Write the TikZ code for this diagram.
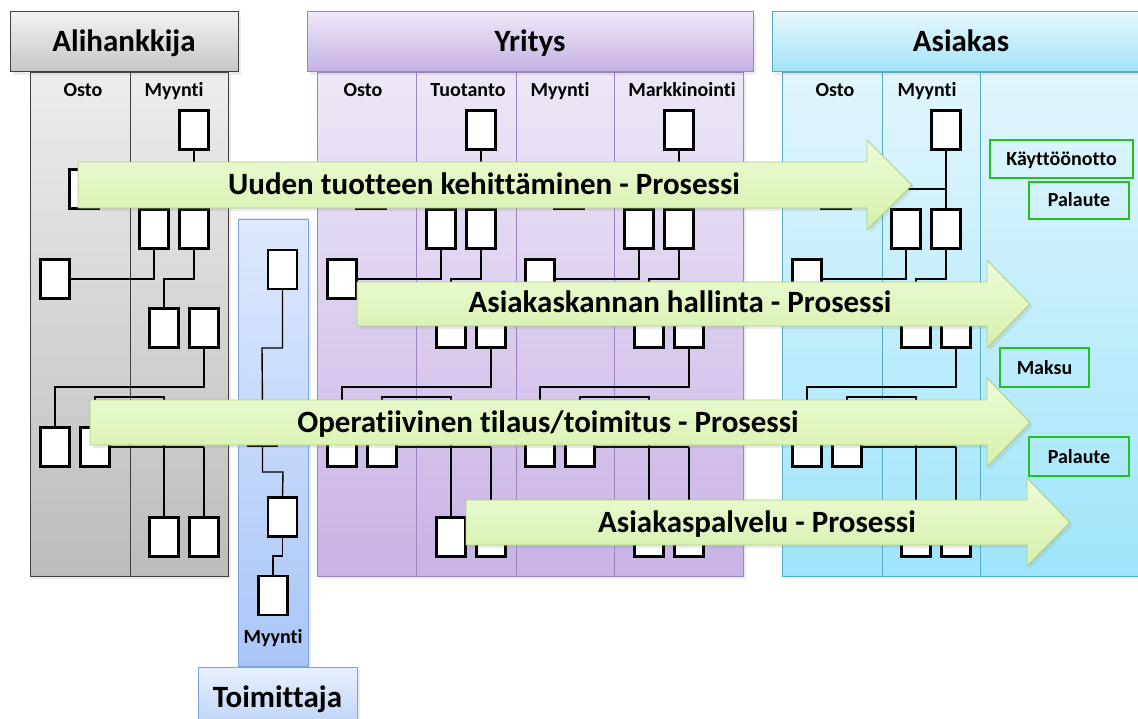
\documentclass[tikz,border=0pt]{standalone}
\usepackage{fontspec}
\setmainfont[Ligatures=NoCommon]{Carlito}
\usetikzlibrary{shadows}

% lane and header colours
\definecolor{aliTop}{HTML}{EDEDED}
\definecolor{aliBot}{HTML}{BCBCBC}
\definecolor{aliHdTop}{HTML}{F2F2F2}
\definecolor{aliHdBot}{HTML}{C6C6C6}
\definecolor{aliEdge}{HTML}{3F3F3F}
\definecolor{yrTop}{HTML}{EEE7F7}
\definecolor{yrBot}{HTML}{C8B3E5}
\definecolor{yrHdTop}{HTML}{EFE8F8}
\definecolor{yrHdBot}{HTML}{C5B0E3}
\definecolor{yrEdge}{HTML}{9C84C4}
\definecolor{asTop}{HTML}{E2F6FD}
\definecolor{asBot}{HTML}{9FE5FA}
\definecolor{asHdTop}{HTML}{E6F8FD}
\definecolor{asHdBot}{HTML}{A2E3F7}
\definecolor{asEdge}{HTML}{54AECB}
\definecolor{toTop}{HTML}{DDE9FC}
\definecolor{toBot}{HTML}{A9C6F7}
\definecolor{toHdTop}{HTML}{E8F0FE}
\definecolor{toHdBot}{HTML}{BCD3F6}
\definecolor{toEdge}{HTML}{7EA3D9}
% process arrows and phase tags
\definecolor{arrTop}{HTML}{EEFCD8}
\definecolor{arrBot}{HTML}{D5F0AA}
\definecolor{arrEdge}{HTML}{AACF80}
\definecolor{tagEdge}{HTML}{1FC21F}

% one organisation chart, #1 = name prefix, #2 = x of its top box
\newcommand\orgchart[2]{%
  \coordinate (#1j1) at (#2,189);
  \coordinate (#1j2) at ({#2-30},279);
  \coordinate (#1j3) at ({#2-139},387);
  \coordinate (#1j4) at ({#2-30},397);
  \coordinate (#1j5) at ({#2-30},447);
  \coordinate (#1j6) at ({#2+10},447);
  \node[orgbox] (#1t)  at (#2,130) {};
  \node[orgbox] (#1l)  at ({#2-110},189) {};
  \node[orgbox] (#1b1) at ({#2-40},229) {};
  \node[orgbox] (#1b2) at (#2,229) {};
  \node[orgbox] (#1l2) at ({#2-139},279) {};
  \node[orgbox] (#1b3) at ({#2-30},328) {};
  \node[orgbox] (#1b4) at ({#2+10},328) {};
  \node[orgbox] (#1l3) at ({#2-139},447) {};
  \node[orgbox] (#1l4) at ({#2-99},447) {};
  \node[orgbox] (#1b5) at ({#2-30},537) {};
  \node[orgbox] (#1b6) at ({#2+10},537) {};
  \draw[link] (#1t) -- (#1b2);
  \draw[link] (#1l.east) -- (#1j1);
  \draw[link] (#1l2.east) -| (#1b1.south);
  \draw[link] (#1b2.south) |- (#1j2) -- (#1b3.north);
  \draw[link] (#1b4.south) |- (#1j3) -- (#1l3.north);
  \draw[link] (#1l4.north) |- (#1j4) -- (#1j5);
  \draw[link] (#1l4.east) -- (#1j6);
  \draw[link] (#1j5) -- (#1b5.north);
  \draw[link] (#1j6) -- (#1b6.north);
}

\begin{document}
\begin{tikzpicture}[x=1pt,y=-1pt,
  lane/.style n args={3}{draw=#3, line width=0.8pt, top color=#1, bottom color=#2,
    drop shadow={opacity=0.15, shadow xshift=3pt, shadow yshift=-3pt}},
  header/.style n args={3}{draw=#3, line width=1pt, top color=#1, bottom color=#2,
    font=\fontsize{31}{31}\selectfont\bfseries, inner sep=0pt, text height=20pt, text depth=0pt,
    drop shadow={opacity=0.15, shadow xshift=3pt, shadow yshift=-3pt}},
  divider/.style={draw=#1, line width=0.8pt},
  col/.style={font=\fontsize{20}{20}\selectfont\bfseries, inner sep=0pt, anchor=base},
  orgbox/.style={draw=black, line width=2.4pt, fill=white, minimum width=29pt,
    minimum height=39pt, inner sep=0pt},
  link/.style={draw=black, line width=1.4pt},
  procarrow/.style={draw=arrEdge, line width=0.9pt, top color=arrTop, bottom color=arrBot,
    drop shadow={opacity=0.16, shadow xshift=2.5pt, shadow yshift=-3pt}},
  proctext/.style={font=\fontsize{31}{31}\selectfont\bfseries, inner sep=0pt, anchor=base},
  tag/.style={draw=tagEdge, line width=1.8pt, inner sep=0pt,
    font=\fontsize{20}{20}\selectfont\bfseries, text height=13pt, text depth=0pt}
]
\useasboundingbox (0,0) rectangle (1138,719);

% ---------- lanes ----------
\path[lane={aliTop}{aliBot}{aliEdge}] (30,72) rectangle (228,576);
\draw[divider=aliEdge] (130,72) -- (130,576);

\path[lane={yrTop}{yrBot}{yrEdge}] (317,72) rectangle (743,576);
\draw[divider=yrEdge] (416,72) -- (416,576);
\draw[divider=yrEdge] (516,72) -- (516,576);
\draw[divider=yrEdge] (614,72) -- (614,576);

\path[lane={asTop}{asBot}{asEdge}] (782,72) rectangle (1150,576);
\draw[divider=asEdge] (882,72) -- (882,576);
\draw[divider=asEdge] (980,72) -- (980,576);

\path[lane={toTop}{toBot}{toEdge}] (238,219) rectangle (308,666);

% ---------- headers ----------
\node[header={aliHdTop}{aliHdBot}{aliEdge}, minimum width=228pt, minimum height=60pt] (hali) at (124,42) {Alihankkija};
\node[header={yrHdTop}{yrHdBot}{yrEdge}, minimum width=446pt, minimum height=60pt] (hyr) at (530,42) {Yritys};
\node[header={asHdTop}{asHdBot}{asEdge}, minimum width=378pt, minimum height=60pt] (has) at (961,42) {Asiakas};
\node[header={toHdTop}{toHdBot}{toEdge}, minimum width=159pt, minimum height=60pt] (hto) at (277.5,697) {Toimittaja};

% ---------- column titles ----------
\node[col] (cAliOsto) at (83,97) {Osto};
\node[col] (cAliMyy) at (174,97) {Myynti};
\node[col] (cYrOsto) at (363,97) {Osto};
\node[col] (cYrTuo) at (468,97) {Tuotanto};
\node[col] (cYrMyy) at (560,97) {Myynti};
\node[col] (cYrMar) at (682,97) {Markkinointi};
\node[col] (cAsOsto) at (835,97) {Osto};
\node[col] (cAsMyy) at (927,97) {Myynti};
\node[col] (cToMyy) at (273,643) {Myynti};

% ---------- organisation charts ----------
\orgchart{ali}{194}
\orgchart{tuo}{481}
\orgchart{mar}{679}
\orgchart{asi}{946}

% supplier chain
\coordinate (tj1) at (262,348);
\coordinate (tj2) at (283,472);
\coordinate (tj3) at (273,556);
\node[orgbox] (tm1) at (282.5,269.5) {};
\node[orgbox] (tm2) at (262.5,426.5) {};
\node[orgbox] (tm3) at (282.5,517) {};
\node[orgbox] (tm4) at (273,595.5) {};
\draw[link] (tm1.south) |- (tj1) -- (tm2.north);
\draw[link] (tm2.south) |- (tj2) -- (tm3.north);
\draw[link] (tm3.south) |- (tj3) -- (tm4.north);

% ---------- process arrows ----------
\path[procarrow] (78,162) -- (867,162) -- (867,140) -- (912,185) -- (867,230) -- (867,208) -- (78,208) -- cycle;
\node[proctext] (p1) at (484,195) {Uuden tuotteen kehittäminen - Prosessi};

\path[procarrow] (357,282) -- (987,282) -- (987,260) -- (1030,304) -- (987,348) -- (987,326) -- (357,326) -- cycle;
\node[proctext] (p2) at (680,313) {Asiakaskannan hallinta - Prosessi};

\path[procarrow] (90,400) -- (987,400) -- (987,378) -- (1030,422.5) -- (987,467) -- (987,445) -- (90,445) -- cycle;
\node[proctext] (p3) at (548,432) {Operatiivinen tilaus/toimitus - Prosessi};

\path[procarrow] (466,500) -- (1027,500) -- (1027,478) -- (1070,522.5) -- (1027,566) -- (1027,545) -- (466,545) -- cycle;
\node[proctext] (p4) at (757,532) {Asiakaspalvelu - Prosessi};

% ---------- customer phases ----------
\node[tag, minimum width=143pt, minimum height=38pt] (kaytto) at (1061.5,159) {Käyttöönotto};
\node[tag, minimum width=100pt, minimum height=37pt] (pal1) at (1079,200.5) {Palaute};
\node[tag, minimum width=89pt, minimum height=39pt] (maksu) at (1044.5,367.5) {Maksu};
\node[tag, minimum width=100pt, minimum height=39pt] (pal2) at (1079,456.5) {Palaute};
\end{tikzpicture}
\end{document}
